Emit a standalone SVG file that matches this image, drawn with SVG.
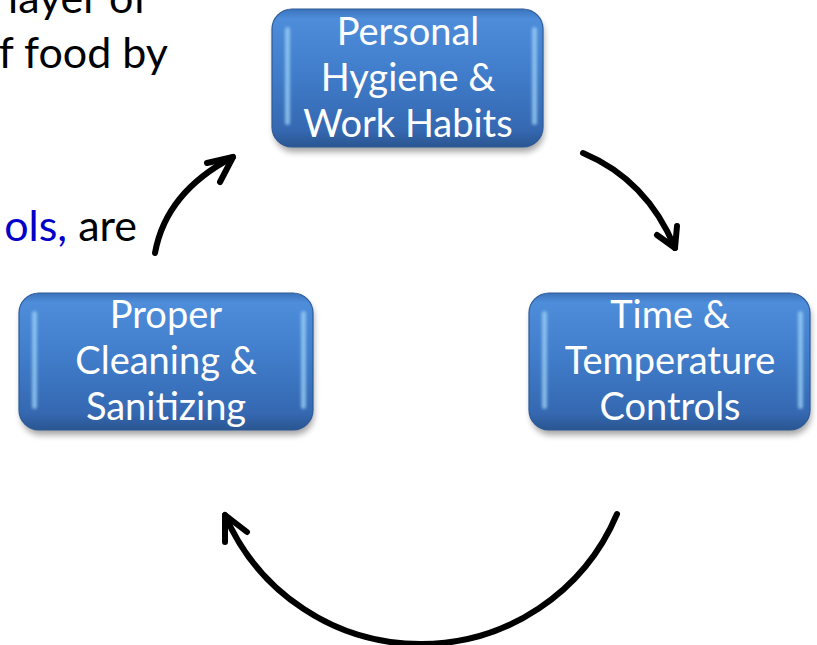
<svg xmlns="http://www.w3.org/2000/svg" width="817" height="645" viewBox="0 0 817 645">
  <defs>
    <linearGradient id="boxFill" x1="0" y1="0" x2="0" y2="1">
      <stop offset="0" stop-color="#3c73bb"/>
      <stop offset="0.07" stop-color="#4e8dda"/>
      <stop offset="0.5" stop-color="#3f7bc8"/>
      <stop offset="0.88" stop-color="#3568b1"/>
      <stop offset="1" stop-color="#2a5590"/>
    </linearGradient>
    <filter id="shadow" x="-10%" y="-10%" width="120%" height="130%">
      <feGaussianBlur stdDeviation="3"/>
    </filter>
    <filter id="glow" x="-100%" y="-10%" width="300%" height="120%">
      <feGaussianBlur stdDeviation="1.6"/>
    </filter>
  </defs>
  <style>
    .shadow { fill: #000; opacity: 0.35; filter: url(#shadow); }
    .box { fill: url(#boxFill); stroke: #2c5b98; stroke-width: 1.2; }
    .shine { fill: #9ed3f7; opacity: 0.75; filter: url(#glow); }
    .label { font-family: Lato, "Liberation Sans", sans-serif; font-size: 38px; fill: #fff; text-anchor: middle; }
    .body { font-family: Lato, "Liberation Sans", sans-serif; font-size: 43px; fill: #000; text-anchor: end; }
    .blue { fill: #0000c8; }
    .arrow { fill: none; stroke: #000; stroke-width: 6; stroke-linecap: round; stroke-linejoin: round; }
  </style>

  <!-- background slide text -->
  <g id="slide-text">
    <text class="body" x="148" y="13">layer of</text>
    <text class="body" x="168" y="68">f food by</text>
    <text class="body" x="137" y="241"><tspan class="blue">ols,</tspan> are</text>
  </g>

  <!-- cycle connectors -->
  <g id="connectors">
    <path class="arrow" d="M155,253 Q166,192 233,157"/>
    <path class="arrow" d="M207,163 L233,157 L220,182"/>
    <path class="arrow" d="M583,153 Q647,180 675,248"/>
    <path class="arrow" d="M677,226 L675,248 L657,235"/>
    <path class="arrow" d="M617,514 A213,213 0 0 1 225,515"/>
    <path class="arrow" d="M247,532 L225,515 L225,542"/>
  </g>

  <g id="personal-hygiene">
    <rect class="shadow" x="274" y="14" width="270" height="138" rx="20"/>
    <rect class="box" x="272" y="9" width="271" height="138" rx="20"/>
    <rect class="shine" x="285" y="27" width="5" height="98" rx="2.5"/>
    <rect class="shine" x="532" y="27" width="5" height="98" rx="2.5"/>
    <text class="label" x="408" y="45">Personal</text>
    <text class="label" x="408" y="91">Hygiene &amp;</text>
    <text class="label" x="408" y="137">Work Habits</text>
  </g>

  <g id="time-temperature">
    <rect class="shadow" x="531" y="298" width="280" height="137" rx="20"/>
    <rect class="box" x="529" y="293" width="281" height="137" rx="20"/>
    <rect class="shine" x="542" y="311" width="5" height="98" rx="2.5"/>
    <rect class="shine" x="798" y="311" width="5" height="98" rx="2.5"/>
    <text class="label" x="670" y="328">Time &amp;</text>
    <text class="label" x="670" y="374">Temperature</text>
    <text class="label" x="670" y="420">Controls</text>
  </g>

  <g id="cleaning-sanitizing">
    <rect class="shadow" x="21" y="298" width="293" height="137" rx="20"/>
    <rect class="box" x="19" y="293" width="294" height="137" rx="20"/>
    <rect class="shine" x="32" y="311" width="5" height="98" rx="2.5"/>
    <rect class="shine" x="301" y="311" width="5" height="98" rx="2.5"/>
    <text class="label" x="166" y="328">Proper</text>
    <text class="label" x="166" y="374">Cleaning &amp;</text>
    <text class="label" x="166" y="420">Sanitizing</text>
  </g>
</svg>
